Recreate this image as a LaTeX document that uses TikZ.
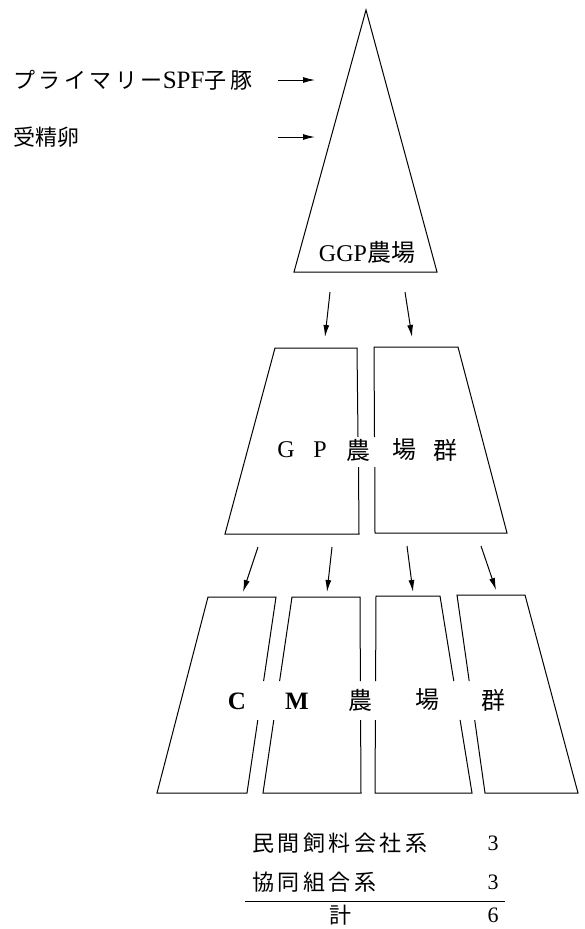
\documentclass[tikz,border=0pt]{standalone}
\usepackage{fontspec}
\setmainfont{Liberation Serif}
\newfontfamily\jp{Noto Sans CJK JP}
\newfontfamily\jpsp{Noto Sans CJK JP}[LetterSpace=16]
\usetikzlibrary{arrows.meta}
\begin{document}
\begin{tikzpicture}[x=1pt,y=-1pt,
  arr/.style={-{Latex[length=12pt,width=6pt]}, line width=1pt},
  lbl/.style={inner sep=0pt, font=\fontsize{22}{24}\selectfont},
  big/.style={inner sep=0pt, font=\fontsize{24}{26}\selectfont},
  outline/.style={line width=1pt, line join=miter}]
\useasboundingbox (0,0) rectangle (584,929);

% ---------- GGP triangle ----------
\draw[outline] (366,10) -- (437,272) -- (294,272) -- cycle;
\node[big] (ggp) at (367,252) {GGP{\jp 農場}};

% inputs
\node[lbl, anchor=west] (spf) at (13,80) {{\jpsp プライマリー}{\fontsize{25}{26}\selectfont SPF}{\jpsp 子豚}};
\node[lbl, anchor=west] (egg) at (13,137) {{\jp 受精卵}};
\coordinate (spfA) at (278,80);  \coordinate (spfB) at (315,80);
\coordinate (eggA) at (278,137); \coordinate (eggB) at (315,137);
\draw[arr] (spfA) -- (spfB);
\draw[arr] (eggA) -- (eggB);

% ---------- GP farms ----------
\coordinate (g1A) at (330,292); \coordinate (g1B) at (325,337);
\coordinate (g2A) at (405,292); \coordinate (g2B) at (412,337);
\draw[arr] (g1A) -- (g1B);
\draw[arr] (g2A) -- (g2B);

\draw[outline] (358,437) -- (357,348) -- (275,348) -- (225,534) -- (359,534) -- (358.5,467);
\draw[outline] (374.5,437) -- (374,347) -- (458,347) -- (507,533) -- (375,533) -- (374.8,467);

\node[big] (gpG) at (286,450) {G};
\node[big] (gpP) at (320,450) {P};
\node[big] (gpN) at (358,450) {\jp 農};
\node[big] (gpJ) at (404,450) {\jp 場};
\node[big] (gpK) at (445,450) {\jp 群};

% ---------- CM farms ----------
\coordinate (c1A) at (258,547); \coordinate (c1B) at (243,592);
\coordinate (c2A) at (332,547); \coordinate (c2B) at (327,592);
\coordinate (c3A) at (407,546); \coordinate (c3B) at (413,592);
\coordinate (c4A) at (481,546); \coordinate (c4B) at (496,590);
\draw[arr] (c1A) -- (c1B);
\draw[arr] (c2A) -- (c2B);
\draw[arr] (c3A) -- (c3B);
\draw[arr] (c4A) -- (c4B);

\draw[outline] (263.6,681) -- (276,597) -- (208,597) -- (157,793) -- (247,793) -- (257.8,720);
\draw[outline] (279.6,681) -- (292,597) -- (360,597) -- (360.4,681);
\draw[outline] (273.8,720) -- (263,793) -- (361,793) -- (360.6,720);
\draw[outline] (375.6,681) -- (376,596) -- (440,596) -- (453.8,681);
\draw[outline] (375.4,720) -- (375,793) -- (472,793) -- (460.1,720);
\draw[outline] (469.2,681) -- (457,595) -- (525,595) -- (578,793) -- (485,793) -- (474.7,720);

\node[big, font=\fontsize{25}{26}\selectfont\bfseries] (cmC) at (237,701) {C};
\node[big, font=\fontsize{25}{26}\selectfont\bfseries] (cmM) at (297,701) {M};
\node[big] (cmN) at (360,700) {\jp 農};
\node[big] (cmJ) at (427,700) {\jp 場};
\node[big] (cmK) at (493,700) {\jp 群};

% ---------- table ----------
\node[lbl, anchor=west] (t1) at (252,843) {{\jpsp 民間飼料会社系}};
\node[lbl] (n1) at (493,843) {3};
\node[lbl, anchor=west] (t2) at (252,882) {{\jpsp 協同組合系}};
\node[lbl] (n2) at (493,882) {3};
\draw[line width=1pt] (245,901) -- (505,901);
\node[lbl] (t3) at (340,915) {{\jp 計}};
\node[lbl] (n3) at (493,915) {6};
\end{tikzpicture}
\end{document}
